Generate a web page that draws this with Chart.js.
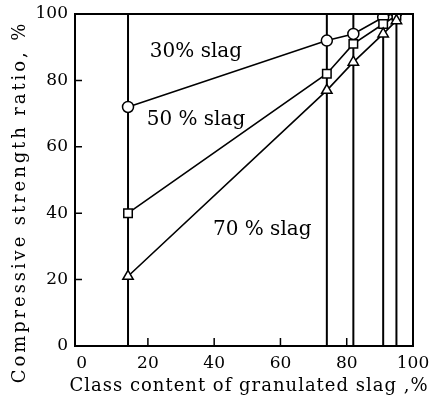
<!DOCTYPE html>
<html>
<head>
<meta charset="utf-8">
<script src="https://cdn.jsdelivr.net/npm/chart.js@4/dist/chart.umd.min.js"></script>
<style>
html,body{margin:0;padding:0;background:#fff;}
#wrap{width:429px;height:401px;position:relative;}
</style>
</head>
<body>
<div id="wrap"><canvas id="c" width="429" height="401"></canvas></div>
<script>
// ---- data ----
const classContents = [14, 74, 82, 91, 95];
const slag30 = [72, 92, 94, 99, 100.5];
const slag50 = [40, 82, 91, 97, 99.5];
const slag70 = [21, 77, 85.5, 94, 98];
const seriesNames = ["30% slag", "50 % slag", "70 % slag"];
const xTickValues = [0, 20, 40, 60, 80, 100];
const yTickValues = [0, 20, 40, 60, 80, 100];
const xTitle = "Class content of granulated slag ,%";
const yTitle = "Compressive strength ratio, %";

const FONT = "'DejaVu Serif', 'Liberation Serif', serif";

function pts(ys){ return classContents.map((x,i)=>({x:x, y:ys[i]})); }

const verticalSets = classContents.map(x => ({
  type:'line',
  data:[{x:x,y:0},{x:x,y:100}],
  borderColor:'#000', borderWidth:2, pointRadius:0, order:10, fill:false
}));

function series(ys, style, rad){
  return {
    type:'line', data:pts(ys), borderColor:'#000', borderWidth:1.6,
    pointStyle:style, pointRadius:rad, pointBackgroundColor:'#fff',
    pointBorderColor:'#000', pointBorderWidth:1.5, order:1, fill:false
  };
}

const annotations = [
  {text:seriesNames[0], x:34.5, y:88.5},
  {text:seriesNames[1], x:34.5, y:68},
  {text:seriesNames[2], x:54.5, y:35}
];

const decor = {
  id:'decor',
  afterDatasetsDraw(chart){
    const {ctx, chartArea:a, scales:{x,y}} = chart;
    ctx.save();
    ctx.strokeStyle='#000';
    ctx.lineWidth=2;
    ctx.strokeRect(a.left, a.top, a.right-a.left, a.bottom-a.top);
    ctx.lineWidth=1.5;
    ctx.beginPath();
    [20,40,60,80].forEach(v=>{
      const py=y.getPixelForValue(v);
      ctx.moveTo(a.left, py); ctx.lineTo(a.left+7, py);
      const px=x.getPixelForValue(v);
      ctx.moveTo(px, a.bottom); ctx.lineTo(px, a.bottom-8);
    });
    ctx.stroke();
    ctx.fillStyle='#000';
    ctx.font = "20px " + FONT;
    ctx.textAlign='center'; ctx.textBaseline='middle';
    ctx.letterSpacing='0px';
    annotations.forEach(an=>{
      ctx.fillText(an.text, x.getPixelForValue(an.x), y.getPixelForValue(an.y));
    });
    // axis titles
    ctx.font = "18px " + FONT;
    ctx.letterSpacing='1px';
    ctx.fillText(xTitle, 249, 386);
    ctx.translate(20, 202);
    ctx.rotate(-Math.PI/2);
    ctx.letterSpacing='2.9px';
    ctx.fillText(yTitle, 0, 0);
    ctx.restore();
  }
};

new Chart(document.getElementById('c'), {
  type:'line',
  data:{ datasets:[
    series(slag70,'triangle',6),
    series(slag50,'rect',6),
    series(slag30,'circle',5.5),
    ...verticalSets
  ]},
  options:{
    responsive:false, animation:false,
    layout:{padding:{top:14, right:16, left:0, bottom:0}},
    plugins:{legend:{display:false}, tooltip:{enabled:false}},
    scales:{
      x:{
        type:'linear', min:-2, max:100,
        grid:{display:false, drawTicks:false}, border:{display:false},
        afterBuildTicks(s){ s.ticks = xTickValues.map(v=>({value:v})); },
        afterFit(s){ s.height = 55; s.paddingLeft = 0; s.paddingRight = 0; },
        ticks:{color:'#000', font:{family:FONT, size:17}, padding:7, maxRotation:0, autoSkip:false}
      },
      y:{
        type:'linear', min:0, max:100,
        grid:{display:false, drawTicks:false}, border:{display:false},
        afterBuildTicks(s){ s.ticks = yTickValues.map(v=>({value:v})); },
        afterFit(s){ s.width = 75; s.paddingTop = 0; s.paddingBottom = 0; },
        ticks:{color:'#000', font:{family:FONT, size:17}, padding:7, autoSkip:false}
      }
    }
  },
  plugins:[decor]
});
</script>
</body>
</html>
